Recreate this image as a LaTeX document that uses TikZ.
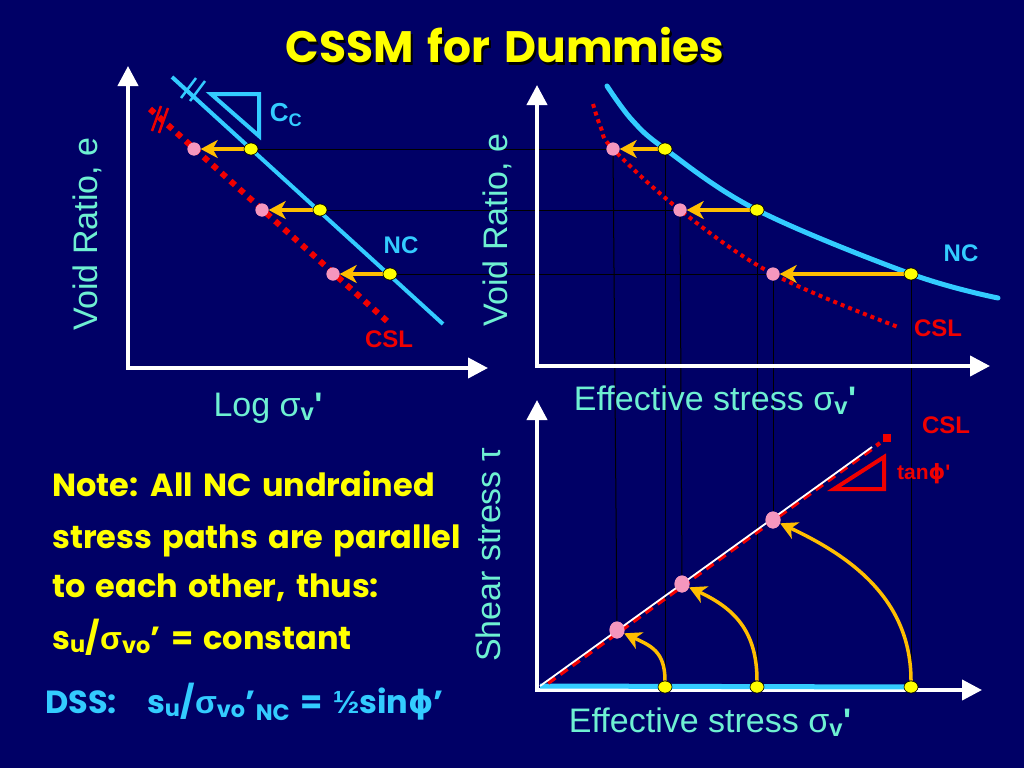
\documentclass[tikz,border=0pt]{standalone}
\usepackage{fontspec}
\usepackage{graphicx}
\usetikzlibrary{arrows.meta,shapes.geometric}
\setmainfont{Liberation Sans}
\newfontfamily\lab{Liberation Sans}
\newfontfamily\com{Poppins}[WordSpace=1.5]
\newfontfamily\dv{DejaVu Sans}
\definecolor{bgc}{RGB}{0,0,102}
\definecolor{cyanl}{RGB}{51,204,255}
\definecolor{labc}{RGB}{110,240,210}
\definecolor{ylw}{RGB}{255,255,0}
\definecolor{orc}{RGB}{255,190,0}
\definecolor{pnk}{RGB}{245,150,190}
\definecolor{redc}{RGB}{240,0,0}
\newcommand\sv{σ\textsubscript{\bfseries v}\textbf{'}}
\begin{document}
\begin{tikzpicture}[x=1pt,y=-1pt,
  axisline/.style={white,line width=4pt,{Triangle[length=20pt,width=20pt]}-{Triangle[length=20pt,width=20pt]}},
  guide/.style={black,line width=1pt},
  ydot/.style={ellipse,draw=black,line width=0.6pt,fill=ylw,minimum width=14pt,minimum height=12pt,inner sep=0pt},
  pdot/.style={ellipse,fill=pnk,minimum width=13pt,minimum height=13pt,inner sep=0pt},
  pdotb/.style={ellipse,fill=pnk,minimum width=15pt,minimum height=17pt,inner sep=0pt},
  orarrow/.style={draw=orc,line width=3.5pt,-{Stealth[length=17pt,width=18pt,inset=5pt]}},
  axlab/.style={labc,font=\lab\fontsize{34}{34}\selectfont,inner sep=0pt},
  bold/.style={font=\lab\bfseries\fontsize{24}{24}\selectfont,inner sep=0pt},
  note/.style={ylw,font=\com\bfseries\fontsize{32}{32}\selectfont,anchor=base west,inner sep=0pt}
]
\fill[bgc] (0,0) rectangle (1024,768);

% dots (positions)
\node[ydot] (ly1) at (251,149) {};
\node[ydot] (ly2) at (320,210) {};
\node[ydot] (ly3) at (390,274) {};
\node[pdot] (lp1) at (194,149) {};
\node[pdot] (lp2) at (262,210) {};
\node[pdot] (lp3) at (333,274) {};
\node[ydot] (ry1) at (665,149) {};
\node[ydot] (ry2) at (757,210) {};
\node[ydot] (ry3) at (911,274) {};
\node[pdot] (rp1) at (613,149) {};
\node[pdot] (rp2) at (680,210) {};
\node[pdot] (rp3) at (773,274) {};
\node[ydot] (by1) at (665,687) {};
\node[ydot] (by2) at (757,687) {};
\node[ydot] (by3) at (911,687) {};
\node[pdotb] (bp1) at (617,630) {};
\node[pdotb] (bp2) at (682,584) {};
\node[pdotb] (bp3) at (773,520) {};

% guide lines
\draw[guide] (ly1) -- (rp1);
\draw[guide] (ly2) -- (rp2);
\draw[guide] (ly3) -- (rp3);
\draw[guide] (rp1) -- (bp1);
\draw[guide] (ry1) -- (by1);
\draw[guide] (rp2) -- (bp2);
\draw[guide] (ry2) -- (by2);
\draw[guide] (rp3) -- (bp3);
\draw[guide] (ry3) -- (by3);

% axes
\draw[axisline] (128,66) -- (128,368) -- (488,368);
\draw[axisline] (537,85) -- (537,366) -- (990,366);
\draw[axisline] (537,400) -- (537,690) -- (982,690);

% left plot lines
\coordinate (lnc0) at (172,77);
\coordinate (lnc1) at (443,324);
\draw[cyanl,line width=4pt] (lnc0) -- (lnc1);
\coordinate (lcs0) at (150,109);
\coordinate (lcs1) at (388,322);
\draw[redc,line width=6pt,dash pattern=on 6pt off 6pt] (lcs0) -- (lcs1);
\draw[cyanl,line width=2.5pt] (181,98) -- (196,78) (190,101) -- (205,81);
\draw[redc,line width=2.5pt] (152,131) -- (161,106) (159,133) -- (168,108);
\draw[cyanl,line width=4pt,line join=miter] (211,94) -- (259,94) -- (259,136) -- cycle;
\node[cyanl,font=\lab\bfseries\fontsize{26}{26}\selectfont,inner sep=0pt] (cc) at (286,115) {C\textsubscript{C}};
\node[cyanl,bold] (ncl) at (401,245) {NC};
\node[redc,bold] (csll) at (389,339) {CSL};

% right plot curves
\draw[cyanl,line width=5pt,line cap=round] plot[smooth,tension=0.6] coordinates {(607,86) (632,120) (665,149) (757,210) (911,274) (998,298)};
\draw[redc,line width=4pt,dash pattern=on 4pt off 4pt] plot[smooth,tension=0.6] coordinates {(593,104) (601,128) (613,149) (680,210) (773,274) (898,327)};
\node[cyanl,bold] (ncr) at (961,253) {NC};
\node[redc,bold] (cslr) at (938,328) {CSL};

% bottom plot
\draw[cyanl,line width=5pt] (540,686) -- (by3.center);
\coordinate (c0) at (548,683);
\coordinate (c1) at (880,443);
\draw[redc,line width=4pt,dash pattern=on 9pt off 6pt] (c0) -- (c1);
\fill[redc] (887,438) +(-4,-4) rectangle +(4,4);
\draw[white,line width=1.8pt] (540,686) -- (872,447);
\draw[redc,line width=4pt,line join=miter] (834,489) -- (884,489) -- (884,457) -- cycle;
\node[redc,font=\lab\bfseries\fontsize{21}{21}\selectfont,anchor=base west,inner sep=0pt] (tanp) at (897,479) {tan{\dv ϕ}'};
\node[redc,bold] (cslb) at (946,425) {CSL};

% arrows
\draw[orarrow] (ly1) -- (lp1);
\draw[orarrow] (ly2) -- (lp2);
\draw[orarrow] (ly3) -- (lp3);
\draw[orarrow] (ry1) -- (rp1);
\draw[orarrow] (ry2) -- (rp2);
\draw[orarrow] (ry3) -- (rp3);
\draw[orarrow] (by1) to[out=90,in=-25,looseness=1.2] (bp1);
\draw[orarrow] (by2) to[out=90,in=-25,looseness=1.1] (bp2);
\draw[orarrow] (by3) to[out=90,in=-25,looseness=1.0] (bp3);

% redraw dots on top
\foreach \n in {ly1,ly2,ly3,ry1,ry2,ry3,by1,by2,by3}{\node[ydot] at (\n) {};}
\foreach \n in {lp1,lp2,lp3,rp1,rp2,rp3}{\node[pdot] at (\n) {};}
\foreach \n in {bp1,bp2,bp3}{\node[pdotb] at (\n) {};}

% axis labels
\node[axlab,rotate=90] (vr1) at (87,234) {Void Ratio, e};
\node[axlab,rotate=90] (vr2) at (497,230) {Void Ratio, e};
\node[axlab,rotate=90] (ss) at (488,555) {Shear stress τ};
\node[axlab] (logs) at (268,408) {Log \sv};
\node[axlab] (es1) at (715,400) {Effective stress \sv};
\node[axlab] (es2) at (710,722) {Effective stress \sv};

% title
\node[black,font=\com\bfseries\fontsize{44}{44}\selectfont,anchor=base,inner sep=0pt] at (507,65) {CSSM for Dummies};
\node[ylw,font=\com\bfseries\fontsize{44}{44}\selectfont,anchor=base,inner sep=0pt] (title) at (505,63) {CSSM for Dummies};

% note
\node[note] (n1) at (52,496) {Note: All NC undrained};
\node[note] (n2) at (52,548) {stress paths are parallel};
\node[note] (n3) at (52,597) {to each other, thus:};
\node[note] (n4) at (52,649) {s\textsubscript{u}/{\lab σ}\textsubscript{vo}’ = constant};
\node[note,cyanl] (dss) at (45,713) {DSS:\hspace{20pt} s\textsubscript{u}/{\lab σ}\textsubscript{vo}’\textsubscript{NC} = {\lab ½}sin{\dv ϕ}’};
\end{tikzpicture}
\end{document}
